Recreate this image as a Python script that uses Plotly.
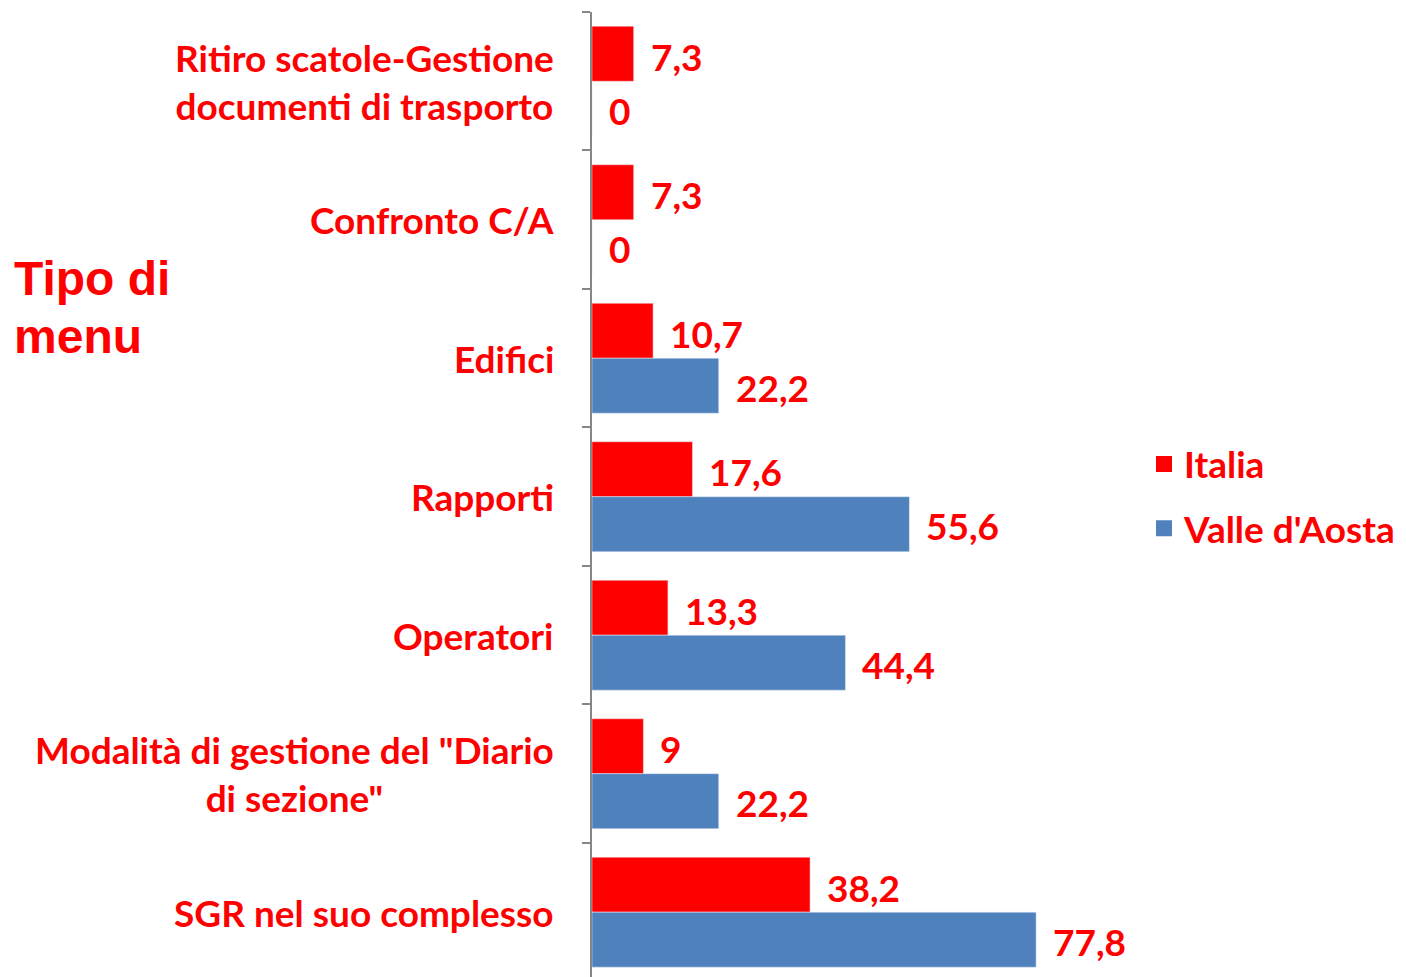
import plotly.graph_objects as go

categories = [
    "Ritiro scatole-Gestione<br>documenti di trasporto",
    "Confronto C/A",
    "Edifici",
    "Rapporti",
    "Operatori",
    "Modalità di gestione del \"Diario<br>di sezione\"",
    "SGR nel suo complesso",
]
italia = [7.3, 7.3, 10.7, 17.6, 13.3, 9.0, 38.2]
valle = [0, 0, 22.2, 55.6, 44.4, 22.2, 77.8]
series_names = ["Italia", "Valle d'Aosta"]
title_lines = ["Tipo di", "menu"]

RED = "#FF0000"
BLUE = "#4F81BD"
FONT = "Lato"
FS = 37

# page body has an 8px margin; compensate
OFF = 8
W, H = 1406 - OFF, 977 - OFF
L, T = 592 - OFF, 12 - OFF
PW = 548
PH = H - T

def fmt(v):
    s = f"{v:.1f}".replace(".", ",")
    if s.endswith(",0"):
        s = s[:-2]
    return s

fig = go.Figure()
fig.add_trace(go.Bar(y=categories, x=italia, orientation="h", name=series_names[0],
                     marker=dict(color=RED), showlegend=False))
fig.add_trace(go.Bar(y=categories, x=valle, orientation="h", name=series_names[1],
                     marker=dict(color=BLUE), showlegend=False))
# legend entries
fig.add_trace(go.Scatter(x=[None], y=[None], mode="markers", name=series_names[0],
                         marker=dict(symbol="square", size=20, color=RED), legendgroup="a"))
fig.add_trace(go.Scatter(x=[None], y=[None], mode="markers", name=series_names[1],
                         marker=dict(symbol="square", size=20, color=BLUE), legendgroup="b"))

annotations = []
label_font = dict(family=FONT, size=FS, color=RED, weight="bold")
for cat, vi, vv in zip(categories, italia, valle):
    annotations.append(dict(x=0, xref="paper", y=cat, yref="y", text=cat, align="center",
                            showarrow=False, xanchor="right", yanchor="middle",
                            xshift=-36, font=label_font))
    annotations.append(dict(x=vi, xref="x", y=cat, yref="y", text=fmt(vi), showarrow=False,
                            xanchor="left", yanchor="middle", xshift=15, yshift=25,
                            font=label_font))
    annotations.append(dict(x=vv, xref="x", y=cat, yref="y", text=fmt(vv), showarrow=False,
                            xanchor="left", yanchor="middle", xshift=15, yshift=-29,
                            font=label_font))

for t, ypix in zip(title_lines, [279, 336]):
    annotations.append(dict(x=(12 - 592) / PW, xref="paper", y=(977 - ypix) / PH, yref="paper",
                            text=t, showarrow=False,
                            font=dict(family="Liberation Sans", size=48, color=RED, weight="bold"),
                            xanchor="left", yanchor="middle"))

fig.update_layout(
    width=W, height=H,
    margin=dict(l=L, r=W - L - PW, t=T, b=0, pad=0),
    plot_bgcolor="white", paper_bgcolor="white",
    barmode="group", bargap=0.206, bargroupgap=0,
    xaxis=dict(range=[0, 96], showgrid=False, zeroline=False, showline=False,
               showticklabels=False, ticks=""),
    yaxis=dict(type="category", range=[6.468, -0.5], showgrid=False, zeroline=False,
               showline=True, linecolor="#868686", linewidth=2,
               ticks="outside", ticklen=8, tickcolor="#868686", tickwidth=2,
               tickson="boundaries", showticklabels=False),
    legend=dict(x=(1144 - 592) / PW, xanchor="left", y=(977 - 496.5) / PH, yanchor="middle",
                font=dict(family=FONT, size=FS, color=RED, weight="bold"),
                tracegroupgap=13, itemsizing="trace", bgcolor="rgba(0,0,0,0)"),
    showlegend=True,
    annotations=annotations,
)

fig.write_html("out.html")
